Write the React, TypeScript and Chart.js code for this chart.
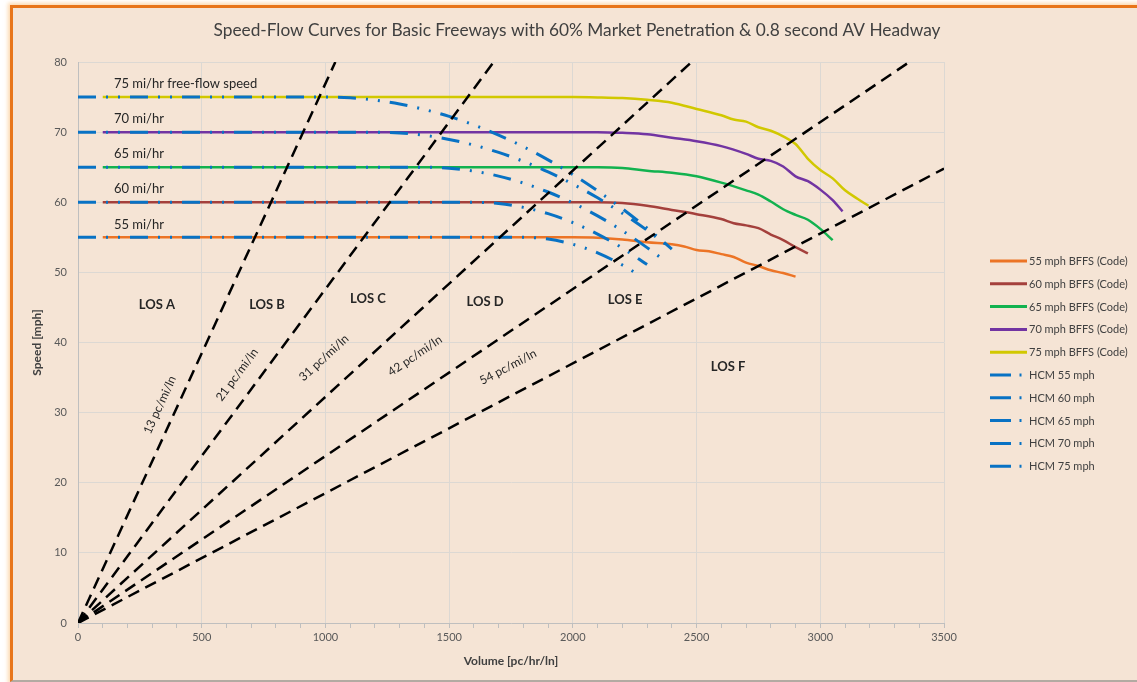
import React, { useEffect, useRef } from "react";
import { Chart, registerables } from "chart.js";

Chart.register(...registerables);

// ---------- DATA ----------
const TITLE = "Speed-Flow Curves for Basic Freeways with 60% Market Penetration & 0.8 second AV Headway";
const X_TITLE = "Volume [pc/hr/ln]";
const Y_TITLE = "Speed [mph]";

const CODE55_FLOW = [100, 2000, 2100, 2200, 2300, 2400, 2450, 2500, 2550, 2600, 2650, 2700, 2750, 2800, 2850, 2900];
const CODE55_SPEED = [55, 55, 54.95, 54.7, 54.3, 54.0, 53.7, 53.2, 53.0, 52.6, 52.2, 51.4, 50.9, 50.3, 49.9, 49.4];

const CODE60_FLOW = [100, 2100, 2200, 2300, 2400, 2500, 2600, 2650, 2700, 2750, 2800, 2850, 2900, 2950];
const CODE60_SPEED = [60, 60, 59.9, 59.5, 58.9, 58.3, 57.6, 57.0, 56.7, 56.3, 55.4, 54.6, 53.6, 52.7];

const CODE65_FLOW = [100, 2100, 2200, 2300, 2400, 2500, 2600, 2700, 2750, 2800, 2850, 2900, 2950, 3000, 3050];
const CODE65_SPEED = [65, 65, 64.9, 64.5, 64.2, 63.7, 62.8, 61.7, 61.1, 60.1, 59.0, 58.2, 57.5, 56.2, 54.6];

const CODE70_FLOW = [100, 2100, 2200, 2300, 2400, 2500, 2600, 2700, 2750, 2800, 2850, 2900, 2950, 3000, 3050, 3090];
const CODE70_SPEED = [70, 70, 69.9, 69.7, 69.2, 68.7, 68.0, 66.9, 66.2, 65.9, 65.1, 63.7, 63.0, 61.8, 60.3, 58.7];

const CODE75_FLOW = [100, 2000, 2100, 2200, 2300, 2400, 2500, 2600, 2650, 2700, 2750, 2800, 2850, 2900, 2950, 3000, 3050, 3100, 3150, 3195];
const CODE75_SPEED = [75, 75, 74.95, 74.85, 74.6, 74.2, 73.3, 72.4, 71.8, 71.5, 70.7, 70.2, 69.4, 68.3, 66.2, 64.6, 63.4, 61.7, 60.5, 59.5];

const HCM55_FLOW = [0, 1800, 1900, 2000, 2100, 2200, 2250];
const HCM55_SPEED = [55, 55, 54.75, 54.01, 52.78, 51.05, 50.0];

const HCM60_FLOW = [0, 1600, 1700, 1800, 1900, 2000, 2100, 2200, 2300];
const HCM60_SPEED = [60, 60, 59.82, 59.27, 58.37, 57.1, 55.46, 53.47, 51.11];

const HCM65_FLOW = [0, 1400, 1500, 1600, 1700, 1800, 1900, 2000, 2100, 2200, 2300, 2350];
const HCM65_SPEED = [65, 65, 64.86, 64.43, 63.73, 62.73, 61.46, 59.9, 58.06, 55.94, 53.53, 52.22];

const HCM70_FLOW = [0, 1200, 1300, 1400, 1500, 1600, 1700, 1800, 1900, 2000, 2100, 2200, 2300, 2400];
const HCM70_SPEED = [70, 70, 69.88, 69.54, 68.96, 68.15, 67.11, 65.83, 64.33, 62.59, 60.63, 58.43, 56.0, 53.33];

const HCM75_FLOW = [0, 1000, 1100, 1200, 1300, 1400, 1500, 1600, 1700, 1800, 1900, 2000, 2100, 2200, 2300, 2400];
const HCM75_SPEED = [75, 75, 74.89, 74.56, 74.01, 73.23, 72.24, 71.02, 69.58, 67.93, 66.05, 63.95, 61.62, 59.08, 56.32, 53.33];

// density rays from the origin (pc/mi/ln) and where they leave the plot
const DENSITIES = [13, 21, 31, 42, 54];
const DENSITY_END_FLOW = [1040, 1680, 2480, 3360, 3500];
const DENSITY_END_SPEED = [80, 80, 80, 80, 64.8];
const DENSITY_LABELS = ["13 pc/mi/ln", "21 pc/mi/ln", "31 pc/mi/ln", "42 pc/mi/ln", "54 pc/mi/ln"];

const LOS_LABELS = ["LOS A", "LOS B", "LOS C", "LOS D", "LOS E", "LOS F"];
const SPEED_LABELS = ["75 mi/hr free-flow speed", "70 mi/hr", "65 mi/hr", "60 mi/hr", "55 mi/hr"];
const SPEED_LABEL_VALUES = [75, 70, 65, 60, 55];

const CODE_LABELS = ["55 mph BFFS (Code)", "60 mph BFFS (Code)", "65 mph BFFS (Code)", "70 mph BFFS (Code)", "75 mph BFFS (Code)"];
const HCM_LABELS = ["HCM 55 mph", "HCM 60 mph", "HCM 65 mph", "HCM 70 mph", "HCM 75 mph"];

const X_MIN = 0, X_MAX = 3500, X_STEP = 100, X_LABEL_STEP = 500;
const Y_MIN = 0, Y_MAX = 80, Y_STEP = 10;

// ---------- STYLES ----------
const FONT = "Lato, 'Open Sans', sans-serif";
const CODE_COLORS = ["#ec7426", "#a4403c", "#12b24f", "#7234a2", "#d1c800"];
const HCM_COLOR = "#0872c4";
const HCM_DASH = [18, 10, 2, 10, 2, 10];
const DENSITY_DASH = [12, 7];
const BG = "#f5e4d5";

// annotation anchors (flow, speed) used only for text placement
const LOS_POS = [[319, 45.4], [764, 45.4], [1172, 46.2], [1645, 45.8], [2211, 46.1], [2627, 36.5]];
const DENSITY_LABEL_POS = [[331, 31.1], [643, 35.4], [994, 37.8], [1362, 38.1], [1738, 36.5]];

const pts = (fx: number[], sy: number[]) => fx.map((x, i) => ({ x, y: sy[i] }));

const annotationPlugin = {
  id: "annotations",
  afterDraw(chart: any) {
    const ctx: CanvasRenderingContext2D = chart.ctx;
    const xs = chart.scales.x;
    const ys = chart.scales.y;
    const px = (v: number) => xs.getPixelForValue(v);
    const py = (v: number) => ys.getPixelForValue(v);
    ctx.save();
    ctx.textBaseline = "middle";

    // title
    ctx.fillStyle = "#404040";
    ctx.textAlign = "center";
    ctx.font = `17.3px ${FONT}`;
    ctx.fillText(TITLE, 577, 30);

    // axis titles
    ctx.font = `bold 12px ${FONT}`;
    ctx.fillText(X_TITLE, (xs.left + xs.right) / 2, 661);
    ctx.save();
    ctx.translate(37, (ys.top + ys.bottom) / 2);
    ctx.rotate(-Math.PI / 2);
    ctx.fillText(Y_TITLE, 0, 0);
    ctx.restore();

    // speed labels above the flat segments
    ctx.font = `13px ${FONT}`;
    ctx.fillStyle = "#262626";
    ctx.textAlign = "left";
    SPEED_LABELS.forEach((t, i) => {
      ctx.fillText(t, px(145), py(SPEED_LABEL_VALUES[i]) - 13);
    });

    // LOS labels
    ctx.font = `bold 13px ${FONT}`;
    ctx.textAlign = "center";
    LOS_LABELS.forEach((t, i) => {
      ctx.fillText(t, px(LOS_POS[i][0]), py(LOS_POS[i][1]));
    });

    // density labels rotated along rays
    ctx.font = `12px ${FONT}`;
    DENSITY_LABELS.forEach((t, i) => {
      const k = DENSITIES[i];
      const ang = Math.atan2(py(40) - py(0), px(k * 40) - px(0));
      ctx.save();
      ctx.translate(px(DENSITY_LABEL_POS[i][0]), py(DENSITY_LABEL_POS[i][1]));
      ctx.rotate(ang);
      ctx.fillText(t, 0, 0);
      ctx.restore();
    });

    // legend
    const rowY0 = 261;
    const rowH = 22.8;
    ctx.font = `11px ${FONT}`;
    ctx.fillStyle = "#404040";
    ctx.textAlign = "left";
    const all = [...CODE_LABELS, ...HCM_LABELS];
    all.forEach((t, i) => {
      const y = rowY0 + i * rowH;
      ctx.lineWidth = 3;
      ctx.setLineDash([]);
      if (i < 5) {
        ctx.strokeStyle = CODE_COLORS[i];
        ctx.beginPath();
        ctx.moveTo(990, y);
        ctx.lineTo(1027, y);
        ctx.stroke();
      } else {
        ctx.strokeStyle = HCM_COLOR;
        ctx.beginPath();
        ctx.moveTo(990, y);
        ctx.lineTo(1011, y);
        ctx.moveTo(1019.5, y);
        ctx.lineTo(1021.5, y);
        ctx.stroke();
      }
      ctx.fillText(t, 1029, y + 0.5);
    });
    ctx.restore();
  },
};

export default function App() {
  const canvasRef = useRef<HTMLCanvasElement | null>(null);

  useEffect(() => {
    if (!canvasRef.current) return;
    const codeSets = [
      [CODE55_FLOW, CODE55_SPEED],
      [CODE60_FLOW, CODE60_SPEED],
      [CODE65_FLOW, CODE65_SPEED],
      [CODE70_FLOW, CODE70_SPEED],
      [CODE75_FLOW, CODE75_SPEED],
    ].map(([f, s], i) => ({
      label: CODE_LABELS[i],
      data: pts(f, s),
      borderColor: CODE_COLORS[i],
      borderWidth: 2.5,
      pointRadius: 0,
      fill: false,
      cubicInterpolationMode: "monotone" as const,
      order: 3,
    }));
    const hcmSets = [
      [HCM55_FLOW, HCM55_SPEED],
      [HCM60_FLOW, HCM60_SPEED],
      [HCM65_FLOW, HCM65_SPEED],
      [HCM70_FLOW, HCM70_SPEED],
      [HCM75_FLOW, HCM75_SPEED],
    ].map(([f, s], i) => ({
      label: HCM_LABELS[i],
      data: pts(f, s),
      borderColor: HCM_COLOR,
      borderWidth: 3,
      borderDash: HCM_DASH,
      pointRadius: 0,
      fill: false,
      cubicInterpolationMode: "monotone" as const,
      order: 2,
    }));
    const densSets = DENSITIES.map((k, i) => ({
      label: DENSITY_LABELS[i],
      data: [
        { x: 0, y: 0 },
        { x: DENSITY_END_FLOW[i], y: DENSITY_END_SPEED[i] },
      ],
      borderColor: "#000000",
      borderWidth: 2.5,
      borderDash: DENSITY_DASH,
      pointRadius: 0,
      fill: false,
      order: 1,
    }));

    const chart = new Chart(canvasRef.current, {
      type: "line",
      data: { datasets: [...codeSets, ...hcmSets, ...densSets] as any },
      options: {
        animation: false,
        responsive: false,
        devicePixelRatio: 1,
        parsing: false as any,
        layout: { padding: { left: 20, top: 62, right: 193, bottom: 0 } },
        plugins: {
          legend: { display: false },
          title: { display: false },
          tooltip: { enabled: false },
        },
        scales: {
          x: {
            type: "linear",
            min: X_MIN,
            max: X_MAX,
            afterFit: (s: any) => {
              s.height = 59;
            },
            ticks: {
              stepSize: X_STEP,
              autoSkip: false,
              maxRotation: 0,
              padding: 3,
              color: "#595959",
              font: { family: FONT, size: 11 },
              callback: (v: any) => (Number(v) % X_LABEL_STEP === 0 ? String(v) : ""),
            },
            grid: {
              color: (c: any) =>
                c.tick && c.tick.value % X_LABEL_STEP === 0 ? "#dcd8d3" : "rgba(0,0,0,0)",
              tickColor: "#bfbfbf",
              tickLength: 5,
              lineWidth: 1,
            },
            border: { color: "#bfbfbf", width: 1 },
          },
          y: {
            type: "linear",
            min: Y_MIN,
            max: Y_MAX,
            afterFit: (s: any) => {
              s.width = 58;
            },
            ticks: {
              stepSize: Y_STEP,
              padding: 11,
              color: "#595959",
              font: { family: FONT, size: 11 },
            },
            grid: { color: "#dcd8d3", drawTicks: false, lineWidth: 1 },
            border: { color: "#bfbfbf", width: 1 },
          },
        },
      },
      plugins: [annotationPlugin],
    });
    return () => chart.destroy();
  }, []);

  return (
    <div
      style={{
        position: "fixed",
        left: 0,
        top: 0,
        width: 1137,
        height: 682,
        overflow: "hidden",
        background: "#ffffff",
      }}
    >
      <div
        style={{
          position: "absolute",
          left: 10,
          top: 5,
          width: 1150,
          height: 677,
          boxSizing: "border-box",
          borderLeft: "3px solid #e8751a",
          borderTop: "3px solid #e8751a",
          borderBottom: "2px solid #b3aaa2",
          background: BG,
          boxShadow: "0 0 4px 2px rgba(250,190,120,0.6)",
        }}
      />
      <canvas
        ref={canvasRef}
        width={1137}
        height={682}
        style={{ position: "absolute", left: 0, top: 0, width: 1137, height: 682 }}
      />
    </div>
  );
}
